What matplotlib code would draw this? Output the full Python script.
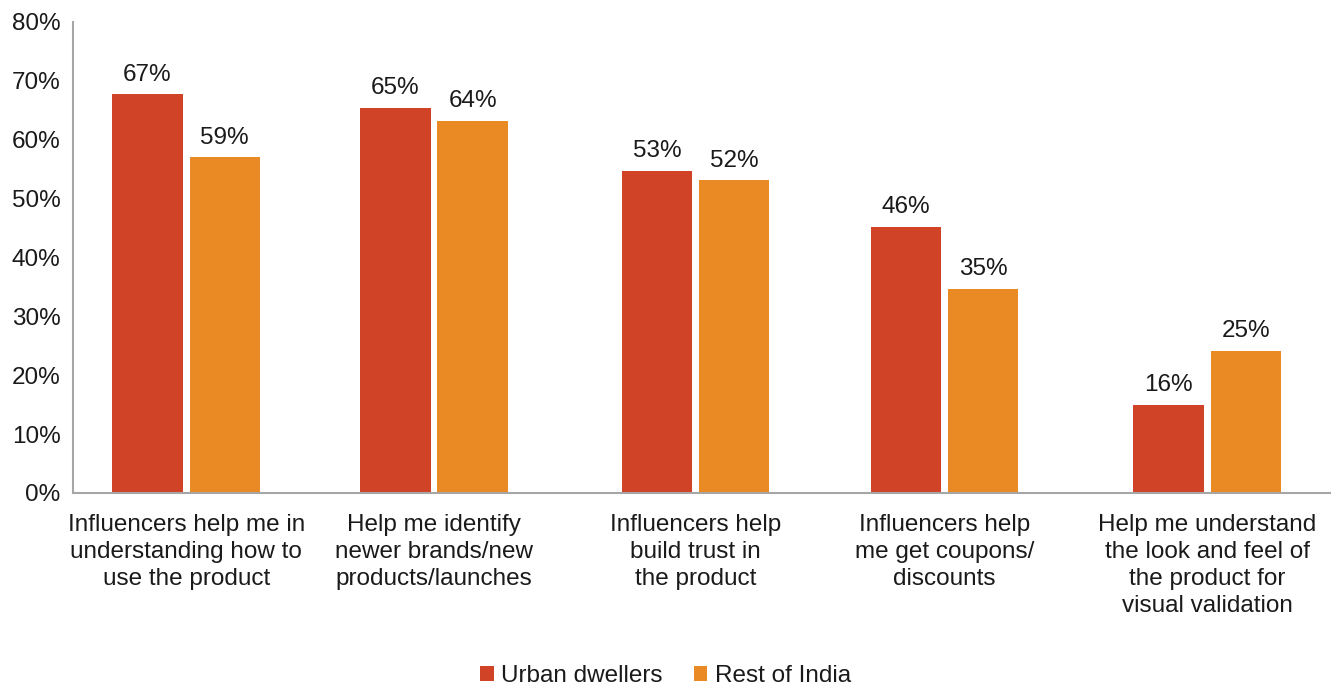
import numpy as np
import matplotlib.pyplot as plt

plt.rcParams['font.family'] = ['Liberation Sans', 'DejaVu Sans']

# survey responses, share of respondents
categories = [
    "Influencers help me in\nunderstanding how to\nuse the product",
    "Help me identify\nnewer brands/new\nproducts/launches",
    "Influencers help\nbuild trust in\nthe product",
    "Influencers help\nme get coupons/\ndiscounts",
    "Help me understand\nthe look and feel of\nthe product for\nvisual validation",
]
urban = [67.7, 65.4, 54.7, 45.2, 14.9]
rest = [57.0, 63.2, 53.1, 34.6, 24.1]
urban_labels = ["67%", "65%", "53%", "46%", "16%"]
rest_labels = ["59%", "64%", "52%", "35%", "25%"]

red = '#D04327'
orange = '#E98A25'
txt = '#1a1a1a'
fs = 17.5

fig = plt.figure(figsize=(13.31, 6.85), dpi=100)
ax = fig.add_axes([0.0548, 0.2803, 0.9452, 0.6876])

x = np.array([0, 0.97, 1.993, 2.968, 3.995])
w = 0.275
off = 0.151
b1 = ax.bar(x - off, urban, w, color=red, label='Urban dwellers')
b2 = ax.bar(x + off, rest, w, color=orange, label='Rest of India')

for bar, lab in zip(b1, urban_labels):
    ax.text(bar.get_x() + bar.get_width() / 2, bar.get_height() + 1.5, lab,
            ha='center', va='bottom', fontsize=fs, color=txt)
for bar, lab in zip(b2, rest_labels):
    ax.text(bar.get_x() + bar.get_width() / 2, bar.get_height() + 1.5, lab,
            ha='center', va='bottom', fontsize=fs, color=txt)

ax.set_ylim(0, 80)
ax.set_xlim(-0.443, 4.48)
ax.set_yticks(range(0, 81, 10))
ax.set_yticklabels([f"{v}%" for v in range(0, 81, 10)], fontsize=fs, color=txt)
ax.set_xticks(x)
ax.set_xticklabels(categories, fontsize=fs, color=txt, linespacing=1.3)
ax.tick_params(axis='x', length=0, pad=15)
ax.tick_params(axis='y', length=0, pad=9)

for s in ['top', 'right']:
    ax.spines[s].set_visible(False)
ax.spines['left'].set_color('#a6a6a6')
ax.spines['bottom'].set_color('#a6a6a6')
ax.spines['left'].set_linewidth(1.5)
ax.spines['bottom'].set_linewidth(1.5)

fig.legend(loc='lower center', bbox_to_anchor=(0.5, -0.035), ncol=2, frameon=False,
           fontsize=fs, handlelength=0.55, handleheight=0.55, handletextpad=0.3,
           columnspacing=1.3, labelcolor=txt)

fig.savefig('out.png', dpi=100)
